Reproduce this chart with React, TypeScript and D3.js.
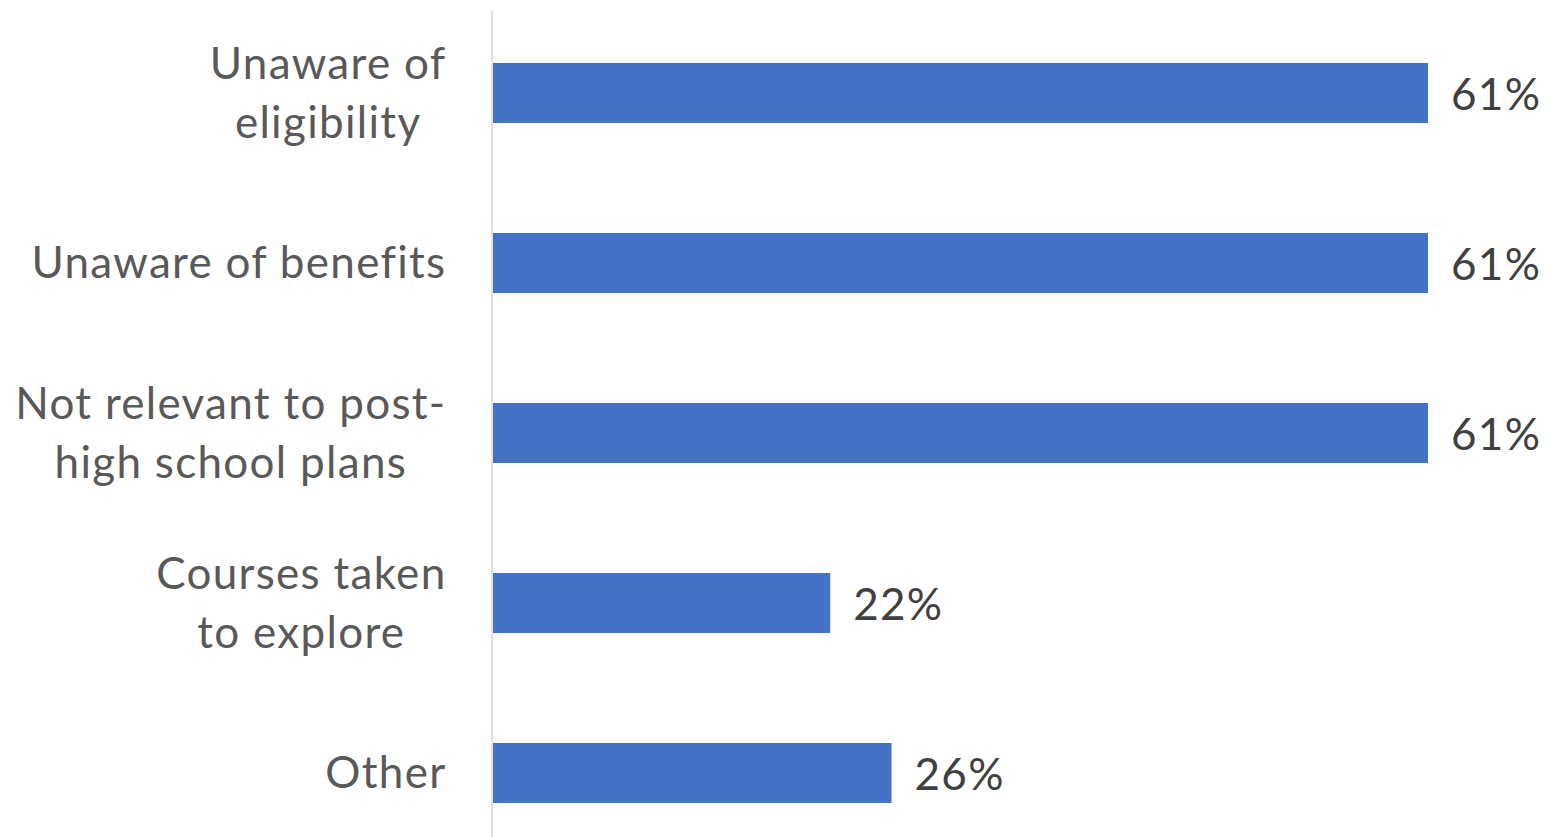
import React from "react";
import * as d3 from "d3";

const categories: string[][] = [
  ["Unaware of", "eligibility"],
  ["Unaware of benefits"],
  ["Not relevant to post-", "high school plans"],
  ["Courses taken", "to explore"],
  ["Other"],
];
const values: number[] = [61, 61, 61, 22, 26];
const valueLabels: string[] = ["61%", "61%", "61%", "22%", "26%"];

const W = 1549;
const H = 837;
const FONT = "Lato, 'Open Sans', sans-serif";
const FS = 44;
const LS = 1.3;

function measure(text: string): number {
  const c = document.createElement("canvas").getContext("2d");
  if (!c) return text.length * FS * 0.5;
  c.font = `${FS}px Lato`;
  return c.measureText(text).width + LS * text.length;
}

export default function App() {
  const ids = categories.map((_, i) => String(i));
  const y = d3.scaleBand<string>().domain(ids).range([8, 858]).paddingInner(0.647).paddingOuter(0.3235);
  const x = d3.scaleLinear().domain([0, 61]).range([493, 1428]);
  const labelRight = 446.5;
  const lineH = 59;

  return (
    <svg width={W} height={H} style={{ position: "absolute", left: 0, top: 0, background: "#fff" }}>
      <line x1={492} x2={492} y1={10} y2={H} stroke="#d9d9d9" strokeWidth={1.5} />
      {values.map((v, i) => {
        const yy = y(String(i))!;
        const bw = y.bandwidth();
        const cy = yy + bw / 2;
        const lines = categories[i];
        const maxW = Math.max(...lines.map(measure));
        const cx = labelRight - maxW / 2;
        const n = lines.length;
        return (
          <g key={i}>
            <rect x={x(0)} y={yy} width={x(v) - x(0)} height={bw} fill="#4472C4" />
            <text
              x={x(v) + 23}
              y={cy + 17}
              fontFamily={FONT}
              fontSize={FS}
              letterSpacing={LS}
              fill="#404040"
            >
              {valueLabels[i]}
            </text>
            {lines.map((l, j) => (
              <text
                key={j}
                x={cx}
                y={cy + 15 + (j - (n - 1) / 2) * lineH}
                textAnchor="middle"
                fontFamily={FONT}
                fontSize={FS}
                letterSpacing={LS}
                fill="#595959"
              >
                {l}
              </text>
            ))}
          </g>
        );
      })}
    </svg>
  );
}
